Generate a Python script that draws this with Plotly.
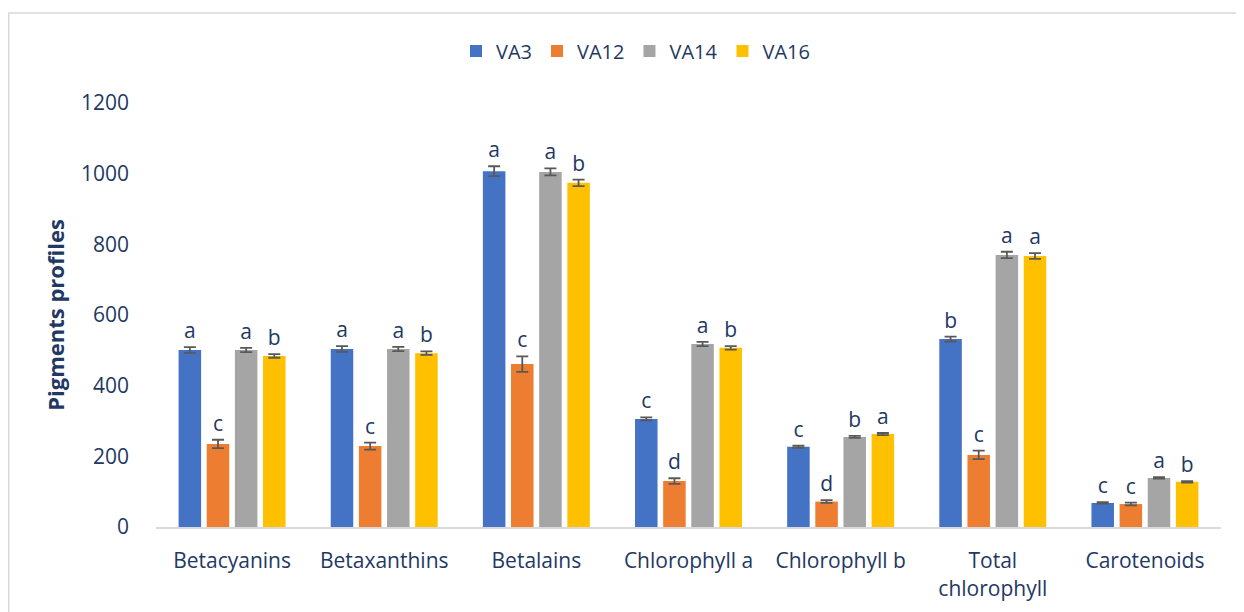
import plotly.graph_objects as go

categories = ["Betacyanins", "Betaxanthins", "Betalains", "Chlorophyll a",
              "Chlorophyll b", "Total<br>chlorophyll", "Carotenoids"]
series_names = ["VA3", "VA12", "VA14", "VA16"]
va3 = [501, 504, 1007, 306, 227, 532, 68]
va12 = [235, 229, 461, 130, 72, 204, 65]
va14 = [501, 504, 1005, 518, 255, 770, 139]
va16 = [484, 492, 974, 507, 263, 767, 128]
err_va3 = [8, 8, 14, 4, 3, 7, 2]
err_va12 = [12, 10, 22, 8, 4, 12, 4]
err_va14 = [6, 6, 10, 6, 3, 9, 2]
err_va16 = [5, 5, 9, 5, 3, 8, 2]
letters_va3 = ["a", "a", "a", "c", "c", "b", "c"]
letters_va12 = ["c", "c", "c", "d", "d", "c", "c"]
letters_va14 = ["a", "a", "a", "a", "b", "a", "a"]
letters_va16 = ["b", "b", "b", "b", "a", "a", "b"]
y_ticks = [0, 200, 400, 600, 800, 1000, 1200]

colors = ["#4472C4", "#ED7D31", "#A5A5A5", "#FFC000"]
navy = "#1F3864"
font_family = "Open Sans"

values = [va3, va12, va14, va16]
errors = [err_va3, err_va12, err_va14, err_va16]
letters = [letters_va3, letters_va12, letters_va14, letters_va16]

W, H = 1236, 604
L, T, PW, PH = 148, 95, 1065, 424

fig = go.Figure()
for j, name in enumerate(series_names):
    fig.add_trace(go.Bar(
        x=categories, y=values[j], name=name, offsetgroup=str(j),
        marker=dict(color=colors[j], line=dict(width=0)),
        error_y=dict(type="data", array=errors[j], color="#595959",
                     thickness=1.8, width=6),
    ))
for j, name in enumerate(series_names):
    tops = [v + e for v, e in zip(values[j], errors[j])]
    fig.add_trace(go.Bar(
        x=categories, y=tops, offsetgroup=str(j), showlegend=False,
        marker=dict(color="rgba(0,0,0,0)", line=dict(width=0)),
        text=letters[j], textposition="outside", cliponaxis=False,
        outsidetextfont=dict(size=21, color=navy, family=font_family),
        hoverinfo="skip",
    ))

fig.update_layout(
    barmode="group", bargap=0.26, bargroupgap=0.2,
    width=W, height=H,
    margin=dict(l=L, r=W - L - PW, t=T, b=H - T - PH, autoexpand=False),
    paper_bgcolor="white", plot_bgcolor="white",
    font=dict(family=font_family, color=navy, size=20),
    legend=dict(orientation="h", x=(448 - L) / PW, xanchor="left", y=(PH + T - 43) / PH,
                yanchor="middle", font=dict(size=20, color=navy), itemwidth=30,
                traceorder="normal", bgcolor="rgba(0,0,0,0)"),
    showlegend=True,
    yaxis=dict(range=[0, 1200], tickvals=y_ticks, showgrid=False, zeroline=False,
               showline=False, ticks="", ticklabelstandoff=26, automargin=False,
               tickfont=dict(size=21, color=navy),
               title=dict(text="<b>Pigments profiles</b>", font=dict(size=22, color=navy),
                          standoff=10)),
    xaxis=dict(showline=True, linecolor="#D9D9D9", linewidth=2, ticks="",
               showgrid=False, ticklabelstandoff=14, automargin=False,
               tickfont=dict(size=21, color=navy)),
    shapes=[dict(type="rect", xref="paper", yref="paper",
                 x0=(0.75 - L) / PW, x1=(1232 - L) / PW,
                 y0=(T + PH - 640) / PH, y1=(T + PH - 5) / PH,
                 line=dict(color="#D9D9D9", width=1.5), fillcolor="rgba(0,0,0,0)",
                 layer="below")],
)
fig.write_html("out.html")
